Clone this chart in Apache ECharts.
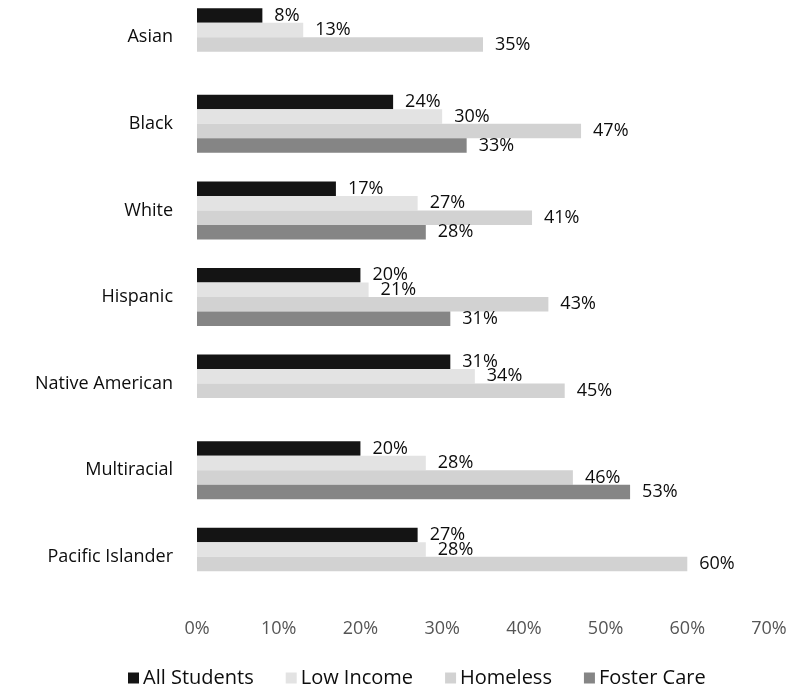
<!DOCTYPE html>
<html>
<head>
<meta charset="utf-8">
<script src="https://cdn.jsdelivr.net/npm/echarts@6/dist/echarts.min.js"></script>
<style>
html,body{margin:0;padding:0;background:#fff;overflow:hidden;}
#wrap{width:801px;height:692px;overflow:hidden;position:relative;}
#chart{width:801px;height:700px;position:absolute;left:0;top:-6px;}
</style>
</head>
<body>
<div id="wrap"><div id="chart"></div></div>
<script>
const categories = ['Asian', 'Black', 'White', 'Hispanic', 'Native American', 'Multiracial', 'Pacific Islander'];
const allStudents = [8, 24, 17, 20, 31, 20, 27];
const lowIncome = [13, 30, 27, 21, 34, 28, 28];
const homeless = [35, 47, 41, 43, 45, 46, 60];
const fosterCare = [null, 33, 28, 31, null, 53, null];
const seriesNames = ['All Students', 'Low Income', 'Homeless', 'Foster Care'];
const xTicks = [0, 10, 20, 30, 40, 50, 60, 70];

const FONT = '"Open Sans", "Liberation Sans", Arial, sans-serif';
const colors = ['#141414', '#e3e3e3', '#d2d2d2', '#858585'];
const seriesData = [allStudents, lowIncome, homeless, fosterCare];

const chart = echarts.init(document.getElementById('chart'));
chart.setOption({
  animation: false,
  backgroundColor: '#ffffff',
  color: colors,
  textStyle: { fontFamily: FONT },
  grid: { left: 197, width: 572, top: 0, height: 606, containLabel: false },
  legend: {
    left: 123, top: 669,
    itemWidth: 11, itemHeight: 11, itemGap: 32,
    icon: 'rect',
    textStyle: { fontFamily: FONT, fontSize: 20, color: '#0d0d0d', padding: [0, 0, 0, -1] },
    data: seriesNames
  },
  xAxis: {
    type: 'value',
    min: xTicks[0], max: xTicks[xTicks.length - 1], interval: 10,
    axisLine: { show: false }, axisTick: { show: false },
    splitLine: { show: false },
    axisLabel: { formatter: '{value}%', fontFamily: FONT, fontSize: 18, color: '#555555', margin: 20 }
  },
  yAxis: {
    type: 'category', data: categories, inverse: true,
    axisLine: { show: false }, axisTick: { show: false },
    axisLabel: { fontFamily: FONT, fontSize: 18, color: '#0d0d0d', margin: 24 }
  },
  series: seriesNames.map((name, i) => ({
    name, type: 'bar',
    data: seriesData[i],
    barGap: '0%', barCategoryGap: '33%',
    itemStyle: { color: colors[i] },
    label: {
      show: true, position: 'right', distance: 12,
      formatter: p => (p.value == null ? '' : p.value + '%'),
      fontFamily: FONT, fontSize: 18, color: '#0d0d0d'
    }
  }))
});
</script>
</body>
</html>
